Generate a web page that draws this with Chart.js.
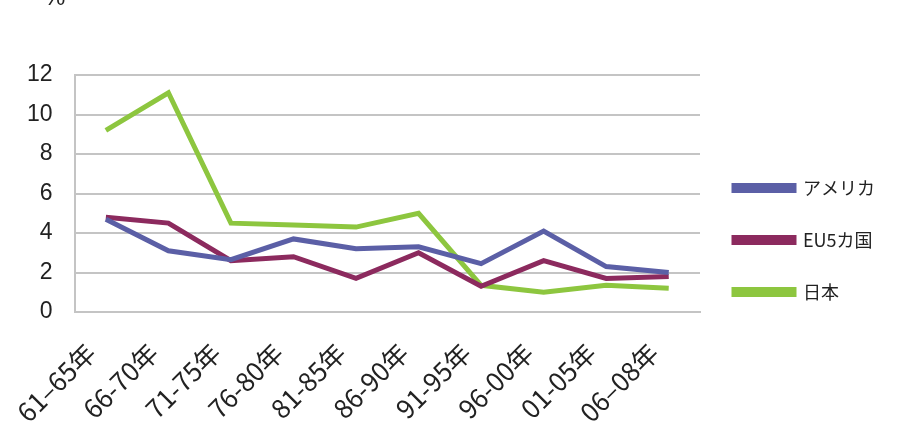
<!DOCTYPE html>
<html>
<head>
<meta charset="utf-8">
<script src="https://cdn.jsdelivr.net/npm/chart.js@4"></script>
<style>
  html, body { margin: 0; padding: 0; background: #fff; }
  #wrap { position: relative; width: 923px; height: 426px; overflow: hidden; }
  #unit { position: absolute; left: 44px; top: -17px; font: 24px "Liberation Sans", sans-serif; color: #222; }
</style>
</head>
<body>
<div id="wrap">
  <div id="unit">%</div>
  <canvas id="growthChart" width="923" height="426"></canvas>
</div>
<script>
const periods = ['61–65年', '66-70年', '71-75年', '76-80年', '81-85年', '86-90年', '91-95年', '96-00年', '01-05年', '06–08年'];
const usaData = [4.7, 3.1, 2.65, 3.7, 3.2, 3.3, 2.45, 4.1, 2.3, 2.0];
const eu5Data = [4.8, 4.5, 2.6, 2.8, 1.7, 3.0, 1.3, 2.6, 1.7, 1.8];
const japanData = [9.2, 11.1, 4.5, 4.4, 4.3, 5.0, 1.35, 1.0, 1.35, 1.2];
const yTicks = [0, 2, 4, 6, 8, 10, 12];

const jpFont = '"Noto Sans CJK JP", "Liberation Sans", sans-serif';

new Chart("growthChart", {
  type: "line",
  data: {
    labels: periods,
    datasets: [
      {
        label: 'アメリカ',
        data: usaData,
        borderColor: "#5b5fa6",
        backgroundColor: "#5b5fa6",
        borderWidth: 5,
        pointRadius: 0,
        fill: false
      },
      {
        label: 'EU5カ国',
        data: eu5Data,
        borderColor: "#8c2a5e",
        backgroundColor: "#8c2a5e",
        borderWidth: 5,
        pointRadius: 0,
        fill: false
      },
      {
        label: '日本',
        data: japanData,
        borderColor: "#8dc63f",
        backgroundColor: "#8dc63f",
        borderWidth: 5,
        pointRadius: 0,
        fill: false
      }
    ]
  },
  options: {
    responsive: false,
    animation: false,
    layout: { padding: { top: 54, left: 5, right: 38, bottom: 0 } },
    plugins: {
      tooltip: { enabled: false },
      // empty title only keeps room above the plot so the legend stays centred
      title: {
        display: true,
        text: '',
        font: { size: 10, lineHeight: 1 },
        padding: { top: 11, bottom: 0 }
      },
      legend: {
        display: true,
        position: 'right',
        labels: {
          boxWidth: 60,
          boxHeight: 5,
          padding: 34,
          color: '#222',
          font: { family: jpFont, size: 18 }
        }
      }
    },
    scales: {
      x: {
        offset: true,
        grid: { display: false },
        border: { display: true, color: '#c4c4c4', width: 2 },
        afterFit: (scale) => { scale.height = 114; },
        ticks: {
          minRotation: 45,
          maxRotation: 45,
          padding: 17,
          labelOffset: -15,
          color: '#222',
          font: { family: jpFont, size: 26 }
        }
      },
      y: {
        min: 0,
        max: 12,
        afterBuildTicks: (scale) => { scale.ticks = yTicks.map(v => ({ value: v })); },
        grid: { color: '#c4c4c4', lineWidth: 2, drawTicks: false },
        border: { display: true, color: '#c4c4c4', width: 2 },
        ticks: {
          padding: 22,
          color: '#222',
          font: { family: '"Liberation Sans", sans-serif', size: 23 }
        }
      }
    }
  }
});
</script>
</body>
</html>
